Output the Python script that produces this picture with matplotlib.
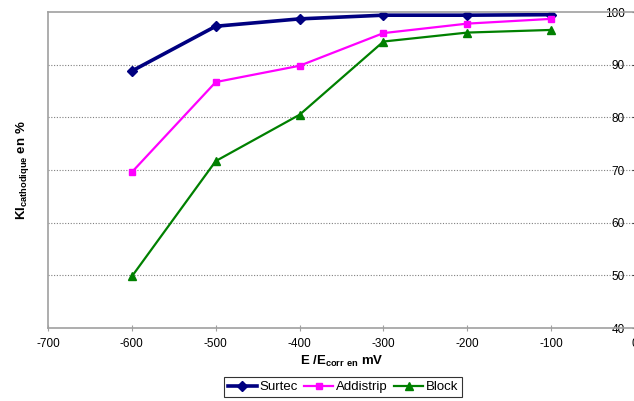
import matplotlib
matplotlib.use("Agg")
import matplotlib.pyplot as plt

plt.rcParams['font.family'] = ['Liberation Sans', 'DejaVu Sans']
plt.rcParams['axes.unicode_minus'] = False

# potential E/Ecorr (mV)
potentials = [-600, -500, -400, -300, -200, -100]

# KI cathodique (%)
surtec = [88.8, 97.3, 98.7, 99.4, 99.4, 99.5]
addistrip = [69.6, 86.7, 89.8, 96.0, 97.8, 98.7]
block = [49.8, 71.7, 80.5, 94.4, 96.1, 96.6]

x_ticks = [-700, -600, -500, -400, -300, -200, -100, 0]
y_ticks = [40, 50, 60, 70, 80, 90, 100]

fig = plt.figure(figsize=(6.34, 4.01), dpi=100)
ax = fig.add_axes([0.0757, 0.182, 0.926, 0.788])

ax.plot(potentials, surtec, color='#000080', lw=2.6, marker='D', ms=5.5, label='Surtec')
ax.plot(potentials, addistrip, color='#FF00FF', lw=1.6, marker='s', ms=4.5, label='Addistrip')
ax.plot(potentials, block, color='#008000', lw=1.6, marker='^', ms=5.5, label='Block')

ax.set_xlim(-700, 0)
ax.set_ylim(40, 100)
ax.set_xticks(x_ticks)
ax.set_yticks(y_ticks)

# horizontal dotted grid
for y in y_ticks[1:-1]:
    ax.axhline(y, color='#808080', lw=0.8, ls=(0, (1, 1.5)), zorder=0)

for side in ['left', 'top', 'bottom']:
    ax.spines[side].set_color('#a0a0a0')
    ax.spines[side].set_linewidth(1.2)
ax.spines['right'].set_color('#404040')
ax.spines['right'].set_linewidth(1.0)

ax.tick_params(axis='x', direction='inout', length=4, color='#a0a0a0', labelsize=8.5, pad=5)
ax.yaxis.set_ticks_position('right')
ax.tick_params(axis='y', direction='inout', length=5, color='#404040', labelsize=8.5, pad=-10)
for lab in ax.get_yticklabels():
    lab.set_horizontalalignment('right')

ax.set_xlabel(r'E /E$_{\mathregular{corr\ en}}$ mV', fontsize=9.5, fontweight='bold', labelpad=3)
ax.set_ylabel(r'KI$_{\mathregular{cathodique}}$ en %', fontsize=9.5, fontweight='bold', labelpad=12)
ax.yaxis.set_label_position('left')

leg = ax.legend(loc='center', bbox_to_anchor=(343 / 634, 1 - 387 / 401), bbox_transform=fig.transFigure,
                ncol=3, fontsize=9.5, frameon=True, fancybox=False, edgecolor='black',
                handlelength=2.2, handletextpad=0.2, columnspacing=0.5, borderpad=0.3)
leg.get_frame().set_linewidth(0.8)

fig.savefig('out.png', dpi=100)
